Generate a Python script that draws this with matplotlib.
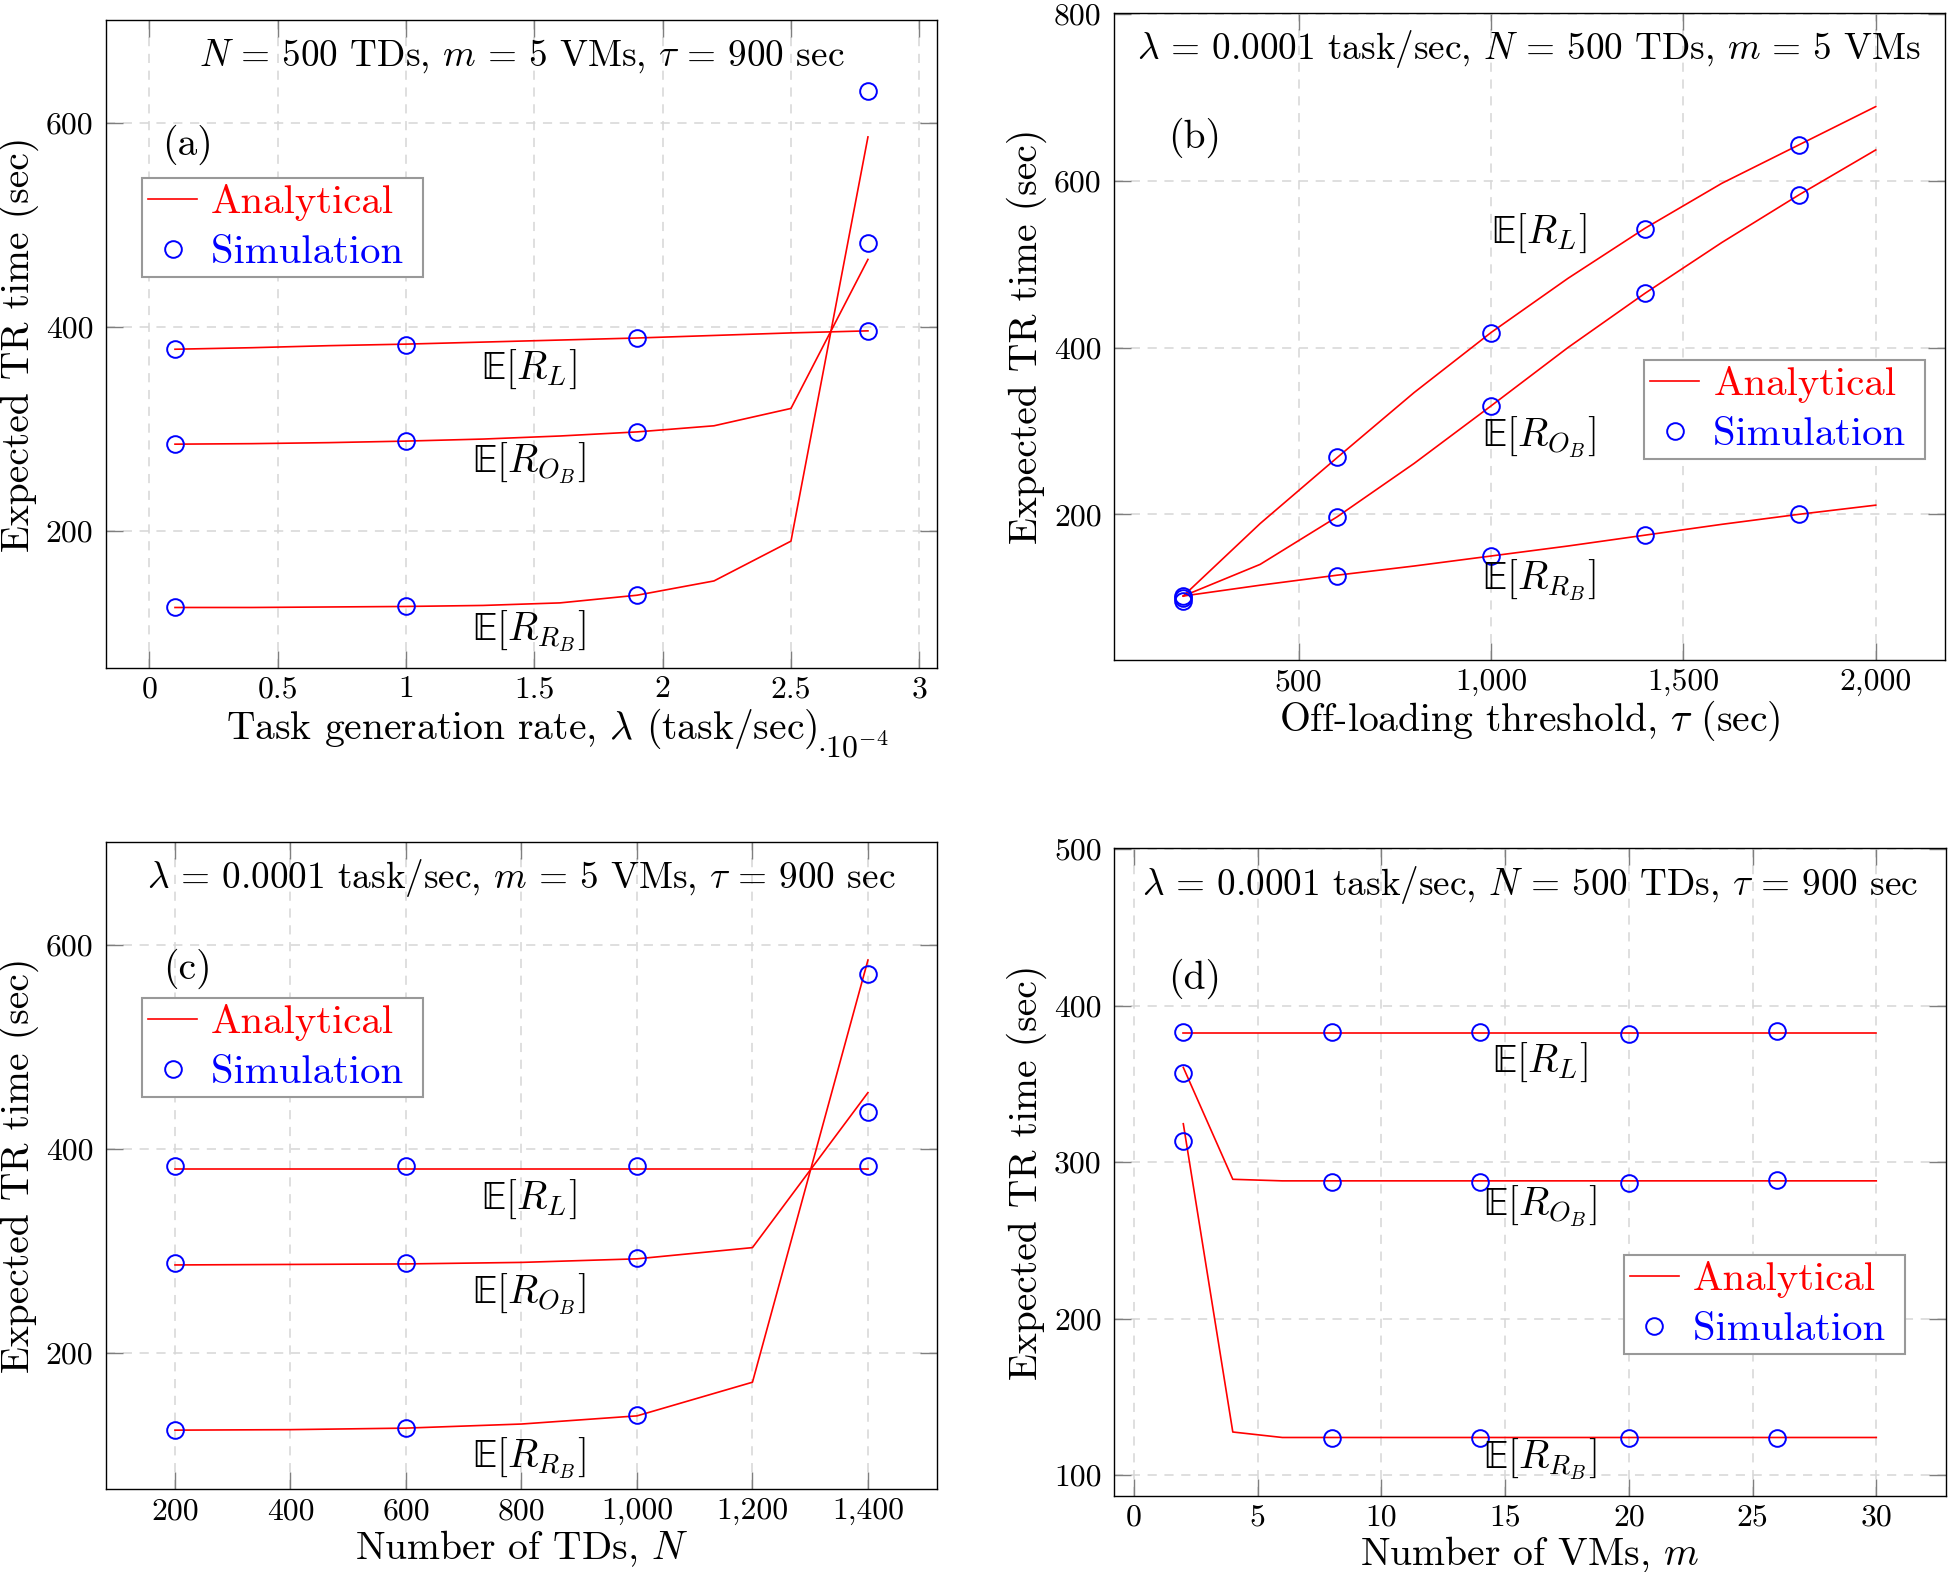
import matplotlib
matplotlib.use("Agg")
import matplotlib.pyplot as plt
from matplotlib.lines import Line2D

plt.rcParams['font.family'] = 'serif'
plt.rcParams['font.serif'] = ['cmr10', 'DejaVu Serif']
plt.rcParams['mathtext.fontset'] = 'cm'
plt.rcParams['axes.unicode_minus'] = False
plt.rcParams['axes.formatter.use_mathtext'] = True

# ---------------- data ----------------
# (a) task generation rate (x 1e-4)
lam_an = [0.1, 0.4, 0.7, 1.0, 1.3, 1.6, 1.9, 2.2, 2.5, 2.8]
a_RL_an = [378, 379.5, 381.5, 383, 385, 387, 389, 391.5, 394, 396]
a_OB_an = [285, 285.5, 286.5, 288, 290, 293, 297, 303, 320, 466]
a_RB_an = [125, 125, 125.5, 126, 127, 129.5, 137, 151, 190, 586]
lam_sim = [0.1, 1.0, 1.9, 2.8]
a_RL_sim = [378, 382.5, 389, 396]
a_OB_sim = [285, 288, 297, 482]
a_RB_sim = [125.5, 126, 137.5, 631]
a_xticks = [0, 0.5, 1, 1.5, 2, 2.5, 3]
a_xticklabels = ['0', '0.5', '1', '1.5', '2', '2.5', '3']
a_yticks = [200, 400, 600]

# (b) off-loading threshold
tau_an = [200, 400, 600, 800, 1000, 1200, 1400, 1600, 1800, 2000]
b_RL_an = [102, 189, 268, 346, 418, 483, 543, 597, 643, 689]
b_OB_an = [102, 140, 197, 261, 330, 400, 465, 526, 583, 637]
b_RB_an = [102, 115, 127, 138, 150, 162, 175, 188, 200, 211]
tau_sim = [200, 600, 1000, 1400, 1800]
b_RL_sim = [102, 269, 418, 542, 643]
b_OB_sim = [96, 197, 330, 465, 583]
b_RB_sim = [100, 126, 150, 175, 200]
b_xticks = [500, 1000, 1500, 2000]
b_xticklabels = ['500', '1,000', '1,500', '2,000']
b_yticks = [200, 400, 600, 800]

# (c) number of TDs
N_an = [200, 400, 600, 800, 1000, 1200, 1400]
c_RL_an = [380, 380, 380, 380, 380, 380, 380]
c_OB_an = [286, 286.5, 287, 288.5, 292, 303, 455]
c_RB_an = [124, 124.5, 126, 130, 138, 171, 585]
N_sim = [200, 600, 1000, 1400]
c_RL_sim = [383, 383, 383.5, 383]
c_OB_sim = [287.5, 288, 293, 436]
c_RB_sim = [124, 126.5, 139, 571]
c_xticks = [200, 400, 600, 800, 1000, 1200, 1400]
c_xticklabels = ['200', '400', '600', '800', '1,000', '1,200', '1,400']
c_yticks = [200, 400, 600]

# (d) number of VMs
m_an = [2, 4, 6, 8, 10, 12, 14, 16, 18, 20, 22, 24, 26, 28, 30]
d_RL_an = [382.5, 382.5, 382.5, 382.5, 382.5, 382.5, 382.5, 382.5,
           382.5, 382.5, 382.5, 382.5, 382.5, 382.5, 382.5]
d_OB_an = [360.5, 289, 288, 288, 288, 288, 288, 288,
           288, 288, 288, 288, 288, 288, 288]
d_RB_an = [324.5, 127.5, 124, 124, 124, 124, 124, 124,
           124, 124, 124, 124, 124, 124, 124]
m_sim = [2, 8, 14, 20, 26]
d_RL_sim = [383, 383, 383, 382, 384]
d_OB_sim = [357, 287.5, 287.5, 286.5, 288.5]
d_RB_sim = [313.5, 123.5, 123.5, 123.5, 123.7]
d_xticks = [0, 5, 10, 15, 20, 25, 30]
d_yticks = [100, 200, 300, 400, 500]

legend_labels = ['Analytical', 'Simulation ']

# ---------------- styling ----------------
RED = '#ff0000'
BLUE = '#0000ff'
BIG = 28.5
LEG = 29.3
TITLE = 26.8
TICK = 22.8

fig = plt.figure(figsize=(19.52, 15.72), dpi=100)

def make_axes(rect, xlim, ylim, xticks, xticklabels, yticks, xlabel):
    ax = fig.add_axes(rect)
    ax.set_xlim(*xlim)
    ax.set_ylim(*ylim)
    ax.set_xticks(xticks)
    ax.set_xticklabels(xticklabels)
    ax.set_yticks(yticks)
    ax.set_yticklabels([str(v) for v in yticks])
    ax.tick_params(direction='in', length=12.5, width=1.0, color='#7f7f7f',
                   top=True, right=True, labelsize=TICK)
    ax.tick_params(axis='x', pad=6)
    ax.tick_params(axis='y', pad=9)
    ax.grid(True, color='#d6d6d6', linewidth=1.1, linestyle=(0, (6, 5)))
    ax.set_axisbelow(True)
    for s in ax.spines.values():
        s.set_linewidth(1.0)
        s.set_color('black')
    ax.set_xlabel(xlabel, fontsize=BIG, labelpad=2)
    ax.set_ylabel('Expected TR time (sec)', fontsize=BIG, labelpad=5)
    return ax

def draw(ax, x_an, ys_an, x_sim, ys_sim):
    for y in ys_an:
        ax.plot(x_an, y, color=RED, linewidth=1.2, zorder=3)
    for y in ys_sim:
        ax.plot(x_sim, y, linestyle='none', marker='o', markersize=12,
                markerfacecolor='none', markeredgecolor=BLUE,
                markeredgewidth=1.4, zorder=4)

def legend(ax, loc, anchor):
    handles = [Line2D([], [], color=RED, linewidth=1.2),
               Line2D([], [], linestyle='none', marker='o', markersize=12,
                      markerfacecolor='none', markeredgecolor=BLUE,
                      markeredgewidth=1.4)]
    leg = ax.legend(handles, legend_labels, loc=loc,
                    bbox_to_anchor=anchor, frameon=True, fancybox=False,
                    edgecolor='#999999', framealpha=1, borderaxespad=0,
                    fontsize=LEG, handlelength=1.2, handletextpad=0.35,
                    borderpad=0.15, labelspacing=0.33, numpoints=1)
    leg.get_frame().set_linewidth(1.5)
    for t, c in zip(leg.get_texts(), [RED, BLUE]):
        t.set_color(c)

def labels(ax, x, ys):
    for txt, y in zip([r'$\mathrm{\mathbb{E}}[R_L]$', r'$\mathrm{\mathbb{E}}[R_{O_B}]$',
                       r'$\mathrm{\mathbb{E}}[R_{R_B}]$'], ys):
        ax.text(x, y, txt, ha='center', va='center', fontsize=BIG, zorder=5)

def title(ax, txt):
    ax.text(0.5, 0.944, txt, transform=ax.transAxes, ha='center',
            va='center', fontsize=TITLE)

# (a)
axa = make_axes([0.05415, 0.57525, 0.4260, 0.4120], (-0.17, 3.07), (66, 700.5),
                a_xticks, a_xticklabels, a_yticks,
                r'Task generation rate, $\lambda$ (task/sec)')
draw(axa, lam_an, [a_RL_an, a_OB_an, a_RB_an], lam_sim, [a_RL_sim, a_OB_sim, a_RB_sim])
title(axa, r'$N\,=\,500$ TDs, $m\,=\,5$ VMs, $\tau\,=\,900$ sec')
axa.text(0.15, 578, '(a)', ha='center', va='center', fontsize=BIG)
axa.text(0.855, -0.138, r'$\cdot 10^{-4}$', transform=axa.transAxes,
         ha='left', va='baseline', fontsize=TICK)
legend(axa, 'upper left', (0.0437, 0.756))
labels(axa, 1.48, [358, 266, 102])

# (b)
axb = make_axes([0.5707, 0.5800, 0.4257, 0.4116], (20, 2180), (25, 801),
                b_xticks, b_xticklabels, b_yticks,
                r'Off-loading threshold, $\tau$ (sec)')
draw(axb, tau_an, [b_RL_an, b_OB_an, b_RB_an], tau_sim, [b_RL_sim, b_OB_sim, b_RB_sim])
title(axb, r'$\lambda\,=\,0.0001$ task/sec, $N\,=\,500$ TDs, $m\,=\,5$ VMs')
axb.text(230, 651, '(b)', ha='center', va='center', fontsize=BIG)
legend(axb, 'upper right', (0.976, 0.464))
labels(axb, 1125, [537, 293, 121])

# (c)
axc = make_axes([0.05415, 0.05261, 0.4260, 0.4116], (80, 1520), (66, 700.5),
                c_xticks, c_xticklabels, c_yticks,
                r'Number of TDs, $N$')
draw(axc, N_an, [c_RL_an, c_OB_an, c_RB_an], N_sim, [c_RL_sim, c_OB_sim, c_RB_sim])
title(axc, r'$\lambda\,=\,0.0001$ task/sec, $m\,=\,5$ VMs, $\tau\,=\,900$ sec')
axc.text(221, 576, '(c)', ha='center', va='center', fontsize=BIG)
legend(axc, 'upper left', (0.0437, 0.759))
labels(axc, 813, [350, 257, 96])

# (d)
axd = make_axes([0.5707, 0.04854, 0.4260, 0.4118], (-0.8, 32.8), (86.8, 500.5),
                d_xticks, [str(v) for v in d_xticks], d_yticks,
                r'Number of VMs, $m$')
draw(axd, m_an, [d_RL_an, d_OB_an, d_RB_an], m_sim, [d_RL_sim, d_OB_sim, d_RB_sim])
title(axd, r'$\lambda\,=\,0.0001$ task/sec, $N\,=\,500$ TDs, $\tau\,=\,900$ sec')
axd.text(2.47, 417, '(d)', ha='center', va='center', fontsize=BIG)
legend(axd, 'upper right', (0.951, 0.372))
labels(axd, 16.4, [364, 272, 110])

fig.savefig('out.png', dpi=100)
